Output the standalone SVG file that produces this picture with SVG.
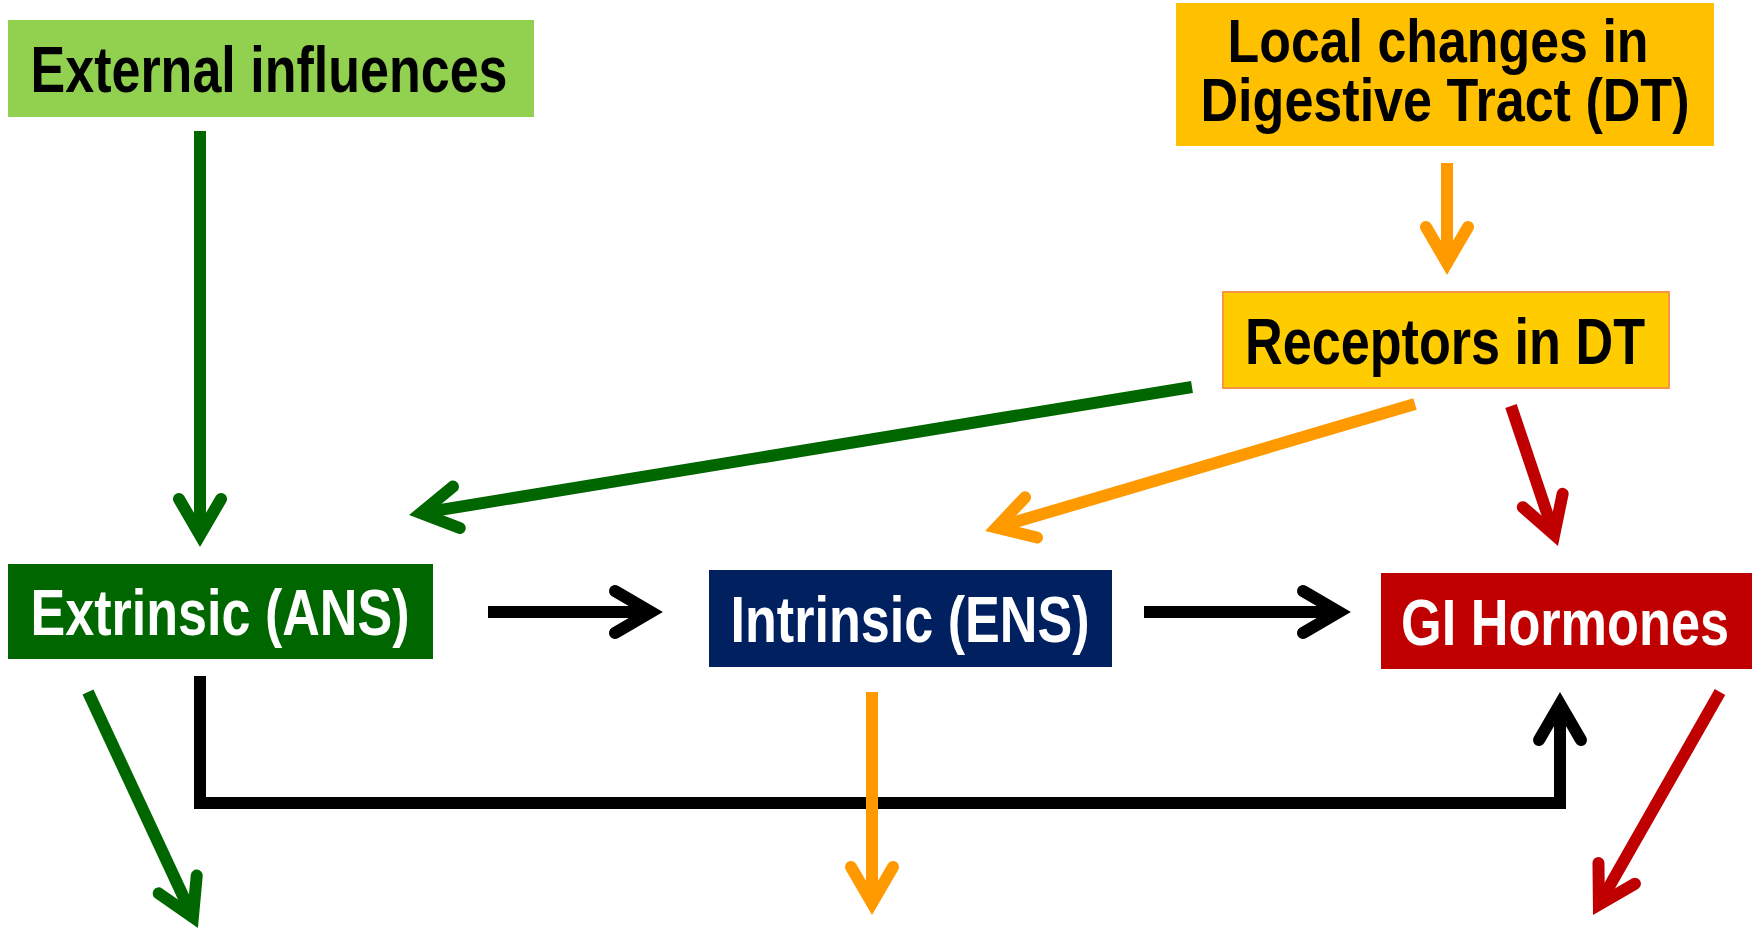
<svg xmlns="http://www.w3.org/2000/svg" width="1758" height="930" viewBox="0 0 1758 930">
  <style>
    .lbl { font-family: "Liberation Sans Narrow", "Liberation Sans", Arial, sans-serif; font-weight: bold; text-anchor: middle; }
    .dark { fill: #000000; }
    .light { fill: #FFFFFF; }
    .shaft { fill: none; stroke-width: 12; stroke-linecap: butt; stroke-linejoin: miter; }
    .g { stroke: #006600; }
    .o { stroke: #FF9900; }
    .r { stroke: #C00000; }
    .k { stroke: #000000; }
  </style>
  <defs>
    <marker id="ah-g" markerUnits="userSpaceOnUse" orient="auto" refX="0" refY="0" markerWidth="100" markerHeight="100" overflow="visible">
      <path d="M-36,-21 L0,0 L-36,21" fill="none" stroke="#006600" stroke-width="12" stroke-linecap="round" stroke-linejoin="miter"/>
    </marker>
    <marker id="ah-o" markerUnits="userSpaceOnUse" orient="auto" refX="0" refY="0" markerWidth="100" markerHeight="100" overflow="visible">
      <path d="M-36,-21 L0,0 L-36,21" fill="none" stroke="#FF9900" stroke-width="12" stroke-linecap="round" stroke-linejoin="miter"/>
    </marker>
    <marker id="ah-r" markerUnits="userSpaceOnUse" orient="auto" refX="0" refY="0" markerWidth="100" markerHeight="100" overflow="visible">
      <path d="M-36,-21 L0,0 L-36,21" fill="none" stroke="#C00000" stroke-width="12" stroke-linecap="round" stroke-linejoin="miter"/>
    </marker>
    <marker id="ah-k" markerUnits="userSpaceOnUse" orient="auto" refX="0" refY="0" markerWidth="100" markerHeight="100" overflow="visible">
      <path d="M-36,-21 L0,0 L-36,21" fill="none" stroke="#000000" stroke-width="12" stroke-linecap="round" stroke-linejoin="miter"/>
    </marker>
  </defs>
  <rect width="1758" height="930" fill="#FFFFFF"/>

  <g id="external">
    <rect x="8" y="20" width="526" height="97" fill="#92D050"/>
    <text class="lbl dark" x="269" y="92" font-size="65" textLength="477" lengthAdjust="spacingAndGlyphs">External influences</text>
  </g>

  <g id="local-changes">
    <rect x="1176" y="3" width="538" height="143" fill="#FFC000"/>
    <text class="lbl dark" x="1438" y="62" font-size="62" textLength="421" lengthAdjust="spacingAndGlyphs">Local changes in</text>
    <text class="lbl dark" x="1445" y="121" font-size="62" textLength="489" lengthAdjust="spacingAndGlyphs">Digestive Tract (DT)</text>
  </g>

  <g id="receptors">
    <rect x="1223" y="292" width="446" height="96" fill="#FFCC00" stroke="#F79646" stroke-width="2"/>
    <text class="lbl dark" x="1445" y="364" font-size="65" textLength="400" lengthAdjust="spacingAndGlyphs">Receptors in DT</text>
  </g>

  <g id="extrinsic">
    <rect x="8" y="564" width="425" height="95" fill="#006600"/>
    <text class="lbl light" x="220" y="635" font-size="65" textLength="379" lengthAdjust="spacingAndGlyphs">Extrinsic (ANS)</text>
  </g>

  <g id="intrinsic">
    <rect x="709" y="570" width="403" height="97" fill="#002060"/>
    <text class="lbl light" x="910" y="642" font-size="65" textLength="359" lengthAdjust="spacingAndGlyphs">Intrinsic (ENS)</text>
  </g>

  <g id="gi-hormones">
    <rect x="1381" y="573" width="371" height="96" fill="#C00000"/>
    <text class="lbl light" x="1565" y="645" font-size="65" textLength="328" lengthAdjust="spacingAndGlyphs">GI Hormones</text>
  </g>

  <g id="connectors">
    <path class="shaft g" d="M200,131 L200,535" marker-end="url(#ah-g)"/>
    <path class="shaft g" d="M1192,387 L420.8,513.1" marker-end="url(#ah-g)"/>
    <path class="shaft o" d="M1447,163 L1447,263" marker-end="url(#ah-o)"/>
    <path class="shaft o" d="M1415,404 L996.5,527.6" marker-end="url(#ah-o)"/>
    <path class="shaft r" d="M1511,406 L1554.2,534.6" marker-end="url(#ah-r)"/>
    <path class="shaft k" d="M488,612 L651,612" marker-end="url(#ah-k)"/>
    <path class="shaft k" d="M1144,612 L1339,612" marker-end="url(#ah-k)"/>
    <path class="shaft k" d="M200,676 L200,803 L1560,803 L1560,704" marker-end="url(#ah-k)"/>
    <path class="shaft g" d="M88,692 L192.9,917.1" marker-end="url(#ah-g)"/>
    <path class="shaft o" d="M872,692 L872,903" marker-end="url(#ah-o)"/>
    <path class="shaft r" d="M1720,692 L1598.9,904.6" marker-end="url(#ah-r)"/>
  </g>
</svg>
